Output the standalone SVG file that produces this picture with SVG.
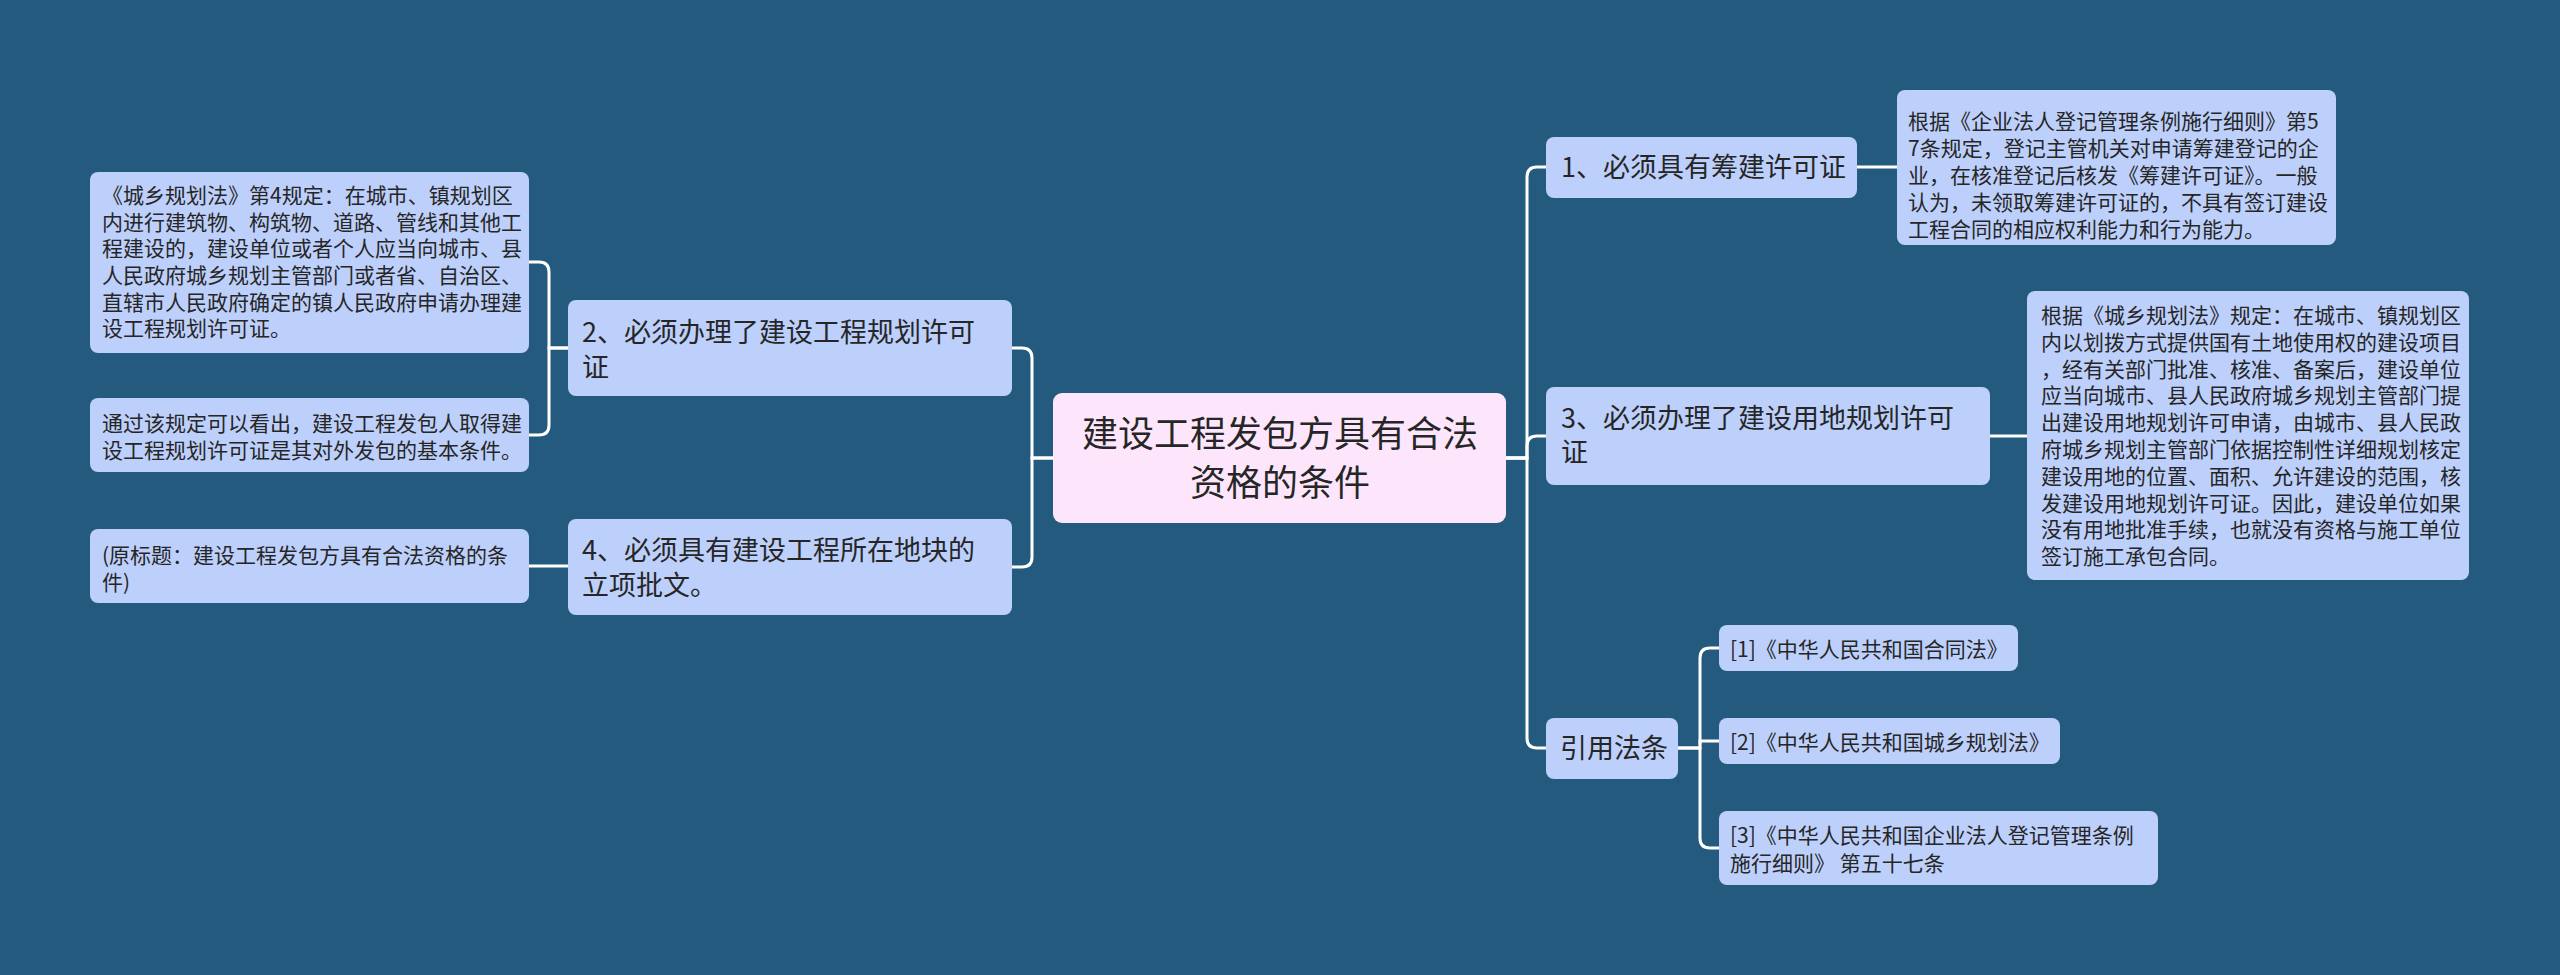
<svg xmlns="http://www.w3.org/2000/svg" width="2560" height="975" viewBox="0 0 2560 975">
<style>
.bg{fill:#245A7D}
.n{fill:#BDD0FB}
.c{fill:#FDE6FB}
.t{font-family:"Noto Sans CJK SC","Noto Sans",sans-serif;fill:#262626}
.s{font-size:21px}
.m{font-size:27px}
.l{font-size:36px}
.e{fill:none;stroke:#FFFFFF;stroke-width:3;stroke-linecap:round}
</style>
<rect class="bg" x="0" y="0" width="2560" height="975"/>
<g id="connectors">
<path class="e" d="M1053,458 H1032 V358 Q1032,348 1022,348 H1012"/>
<path class="e" d="M1053,458 H1032 V557 Q1032,567 1022,567 H1012"/>
<path class="e" d="M568,348 H549 V272 Q549,262 539,262 H529"/>
<path class="e" d="M568,348 H549 V425 Q549,435 539,435 H529"/>
<path class="e" d="M568,566 H529"/>
<path class="e" d="M1505,458 H1527 V177 Q1527,167 1537,167 H1546"/>
<path class="e" d="M1505,458 H1527 V446 Q1527,436 1537,436 H1546"/>
<path class="e" d="M1505,458 H1527 V738 Q1527,748 1537,748 H1546"/>
<path class="e" d="M1857,167 H1897"/>
<path class="e" d="M1990,436 H2027"/>
<path class="e" d="M1678,748 H1700 V658 Q1700,648 1710,648 H1719"/>
<path class="e" d="M1700,744 V741 H1719"/>
<path class="e" d="M1678,748 H1700 V838 Q1700,848 1710,848 H1719"/>
</g>
<g id="root">
<rect class="c" x="1053" y="393" width="453" height="130" rx="9"/>
<text class="t l" x="1280" y="447" text-anchor="middle">建设工程发包方具有合法</text>
<text class="t l" x="1280" y="496" text-anchor="middle">资格的条件</text>
</g>
<g id="node2">
<rect class="n" x="568" y="300" width="444" height="96" rx="8"/>
<text class="t m" x="582" y="342">2、必须办理了建设工程规划许可</text>
<text class="t m" x="582" y="377">证</text>
</g>
<g id="node2a">
<rect class="n" x="90" y="172" width="439" height="181" rx="8"/>
<text class="t s" x="102" y="203">《城乡规划法》第4规定：在城市、镇规划区</text>
<text class="t s" x="102" y="230">内进行建筑物、构筑物、道路、管线和其他工</text>
<text class="t s" x="102" y="256">程建设的，建设单位或者个人应当向城市、县</text>
<text class="t s" x="102" y="283">人民政府城乡规划主管部门或者省、自治区、</text>
<text class="t s" x="102" y="310">直辖市人民政府确定的镇人民政府申请办理建</text>
<text class="t s" x="102" y="336">设工程规划许可证。</text>
</g>
<g id="node2b">
<rect class="n" x="90" y="398" width="439" height="74" rx="8"/>
<text class="t s" x="102" y="431">通过该规定可以看出，建设工程发包人取得建</text>
<text class="t s" x="102" y="458">设工程规划许可证是其对外发包的基本条件。</text>
</g>
<g id="node4">
<rect class="n" x="568" y="519" width="444" height="96" rx="8"/>
<text class="t m" x="582" y="560">4、必须具有建设工程所在地块的</text>
<text class="t m" x="582" y="595">立项批文。</text>
</g>
<g id="node4a">
<rect class="n" x="90" y="529" width="439" height="74" rx="8"/>
<text class="t s" x="102" y="563">(原标题：建设工程发包方具有合法资格的条</text>
<text class="t s" x="102" y="590">件)</text>
</g>
<g id="node1">
<rect class="n" x="1546" y="137" width="311" height="61" rx="8"/>
<text class="t m" x="1561" y="177">1、必须具有筹建许可证</text>
</g>
<g id="node1a">
<rect class="n" x="1897" y="90" width="439" height="155" rx="8"/>
<text class="t s" x="1908" y="129">根据《企业法人登记管理条例施行细则》第5</text>
<text class="t s" x="1908" y="156">7条规定，登记主管机关对申请筹建登记的企</text>
<text class="t s" x="1908" y="183">业，在核准登记后核发《筹建许可证》。一般</text>
<text class="t s" x="1908" y="210">认为，未领取筹建许可证的，不具有签订建设</text>
<text class="t s" x="1908" y="237">工程合同的相应权利能力和行为能力。</text>
</g>
<g id="node3">
<rect class="n" x="1546" y="387" width="444" height="98" rx="8"/>
<text class="t m" x="1561" y="428">3、必须办理了建设用地规划许可</text>
<text class="t m" x="1561" y="462">证</text>
</g>
<g id="node3a">
<rect class="n" x="2027" y="291" width="442" height="289" rx="8"/>
<text class="t s" x="2041" y="323">根据《城乡规划法》规定：在城市、镇规划区</text>
<text class="t s" x="2041" y="350">内以划拨方式提供国有土地使用权的建设项目</text>
<text class="t s" x="2041" y="377">，经有关部门批准、核准、备案后，建设单位</text>
<text class="t s" x="2041" y="403">应当向城市、县人民政府城乡规划主管部门提</text>
<text class="t s" x="2041" y="430">出建设用地规划许可申请，由城市、县人民政</text>
<text class="t s" x="2041" y="457">府城乡规划主管部门依据控制性详细规划核定</text>
<text class="t s" x="2041" y="484">建设用地的位置、面积、允许建设的范围，核</text>
<text class="t s" x="2041" y="511">发建设用地规划许可证。因此，建设单位如果</text>
<text class="t s" x="2041" y="537">没有用地批准手续，也就没有资格与施工单位</text>
<text class="t s" x="2041" y="564">签订施工承包合同。</text>
</g>
<g id="refs">
<rect class="n" x="1546" y="718" width="132" height="61" rx="8"/>
<text class="t m" x="1560" y="758">引用法条</text>
</g>
<g id="ref1">
<rect class="n" x="1719" y="625" width="299" height="46" rx="8"/>
<text class="t s" x="1730" y="657">[1]《中华人民共和国合同法》</text>
</g>
<g id="ref2">
<rect class="n" x="1719" y="718" width="341" height="46" rx="8"/>
<text class="t s" x="1730" y="750">[2]《中华人民共和国城乡规划法》</text>
</g>
<g id="ref3">
<rect class="n" x="1719" y="811" width="439" height="74" rx="8"/>
<text class="t s" x="1730" y="843">[3]《中华人民共和国企业法人登记管理条例</text>
<text class="t s" x="1730" y="871">施行细则》 第五十七条</text>
</g>
</svg>
